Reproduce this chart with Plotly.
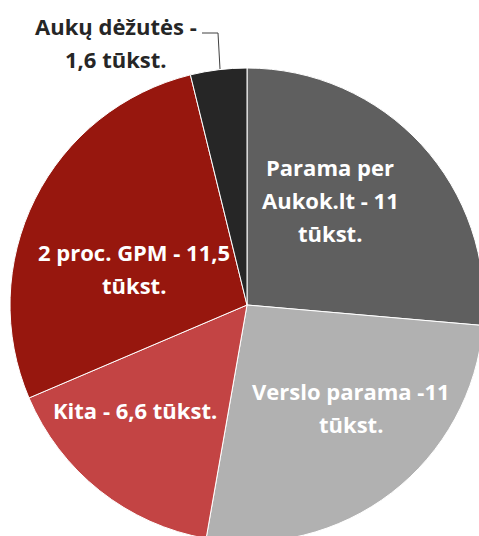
import plotly.graph_objects as go

# ---- data ----
categories = ["Parama per Aukok.lt", "Verslo parama", "Kita", "2 proc. GPM", "Aukų dėžutės"]
values = [11, 11, 6.6, 11.5, 1.6]
label_texts = [
    "Parama per\nAukok.lt - 11\ntūkst.",
    "Verslo parama -11\ntūkst.",
    "Kita - 6,6 tūkst.",
    "2 proc. GPM - 11,5\ntūkst.",
    "Aukų dėžutės -\n1,6 tūkst.",
]
colors = ["#5f5f5f", "#b1b1b1", "#c34444", "#97170e", "#262626"]

# ---- layout (pixels) ----
W, H = 484, 560
cx, cy, r = 247, 305, 237
label_pos = [(330, 200), (351, 407), (135, 410), (134, 268), (116, 43)]
label_colors = ["white", "white", "white", "white", "#262626"]
line_gap = 33
FONT = "Open Sans"

def px(x):
    return x / W

def py(y):
    return 1 - y / H

fig = go.Figure(
    go.Pie(
        labels=categories,
        values=values,
        sort=False,
        direction="clockwise",
        rotation=0,
        marker=dict(colors=colors, line=dict(color="white", width=1)),
        textinfo="none",
        hoverinfo="label+value",
        domain=dict(x=[px(cx - r), px(cx + r)], y=[py(cy + r), py(cy - r)]),
        showlegend=False,
    )
)

annotations = []
for txt, (lx, ly), col in zip(label_texts, label_pos, label_colors):
    lines = txt.split("\n")
    n = len(lines)
    for i, ln in enumerate(lines):
        yy = ly + (i - (n - 1) / 2) * line_gap
        annotations.append(
            dict(
                x=px(lx), y=py(yy), xref="paper", yref="paper",
                text="<b>" + ln + "</b>", showarrow=False,
                font=dict(family=FONT, size=22, color=col),
                xanchor="center", yanchor="middle",
            )
        )

# leader line for the small slice
path = f"M {px(202)},{py(33)} L {px(218)},{py(33)} L {px(220)},{py(69)}"
fig.update_layout(
    width=W, height=H,
    margin=dict(l=0, r=0, t=0, b=0),
    paper_bgcolor="white", plot_bgcolor="white",
    annotations=annotations,
    shapes=[dict(type="path", path=path, xref="paper", yref="paper",
                 line=dict(color="#404040", width=1))],
)

fig.write_html(
    "out.html",
    post_script="document.documentElement.style.overflow='hidden';document.body.style.overflow='hidden';document.body.style.margin='0';",
)
